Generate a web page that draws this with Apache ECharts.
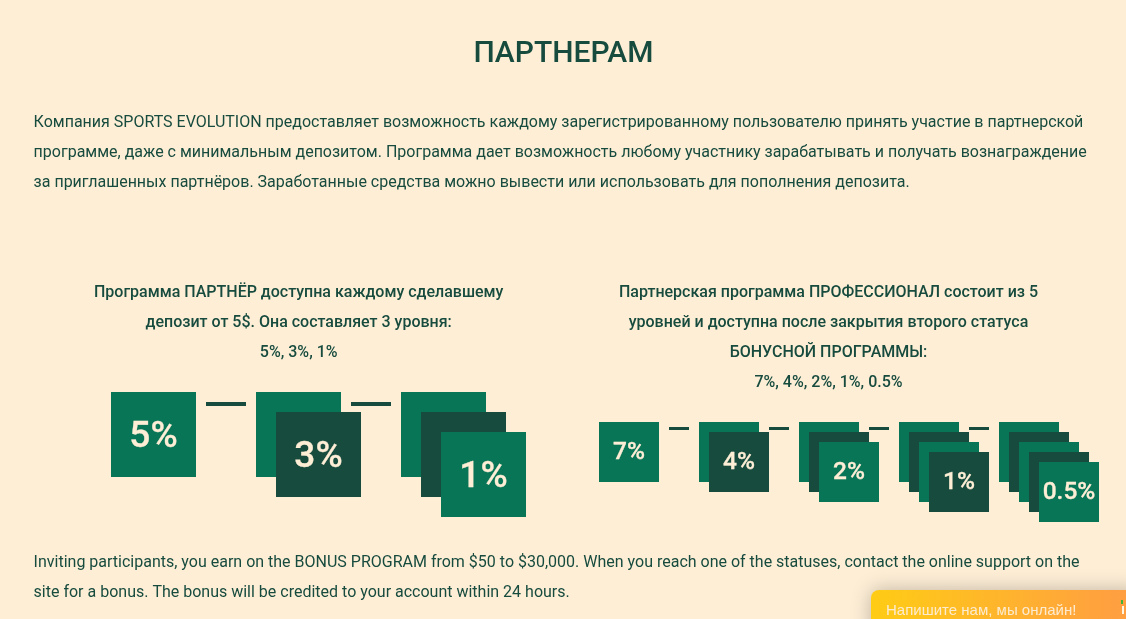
<!DOCTYPE html>
<html><head><meta charset="utf-8">
<style>html,body{margin:0;padding:0;background:#FEEED6;overflow:hidden}#c{width:1126px;height:619px}</style>
<script src="https://cdn.jsdelivr.net/npm/echarts@6/dist/echarts.min.js"></script>
</head><body><div id="c"></div>
<script>
const pageTitle = 'ПАРТНЕРАМ';
const introLines = [
 'Компания SPORTS EVOLUTION предоставляет возможность каждому зарегистрированному пользователю принять участие в партнерской',
 'программе, даже с минимальным депозитом. Программа дает возможность любому участнику зарабатывать и получать вознаграждение',
 'за приглашенных партнёров. Заработанные средства можно вывести или использовать для пополнения депозита.'
];
const partnerLines = ['Программа ПАРТНЁР доступна каждому сделавшему','депозит от 5$. Она составляет 3 уровня:','5%, 3%, 1%'];
const proLines = ['Партнерская программа ПРОФЕССИОНАЛ состоит из 5','уровней и доступна после закрытия второго статуса','БОНУСНОЙ ПРОГРАММЫ:','7%, 4%, 2%, 1%, 0.5%'];
const outroLines = [
 'Inviting participants, you earn on the BONUS PROGRAM from $50 to $30,000. When you reach one of the statuses, contact the online support on the',
 'site for a bonus. The bonus will be credited to your account within 24 hours.'
];
const chatLabel = 'Напишите нам, мы онлайн!';
const partnerLevels = ['5%','3%','1%'];
const proLevels = ['7%','4%','2%','1%','0.5%'];

const GREEN='#087557', DARK='#174B3E', CREAM='#FEEED6';

// every level is a stack of (level index + 1) squares; depth = position in stack
function stackRows(levels){
  const rows=[];
  levels.forEach((lab,i)=>{ for(let d=0;d<=i;d++) rows.push([i,d]); });
  return rows;
}
function linkRows(levels){ return levels.slice(1).map((_,i)=>[i,0]); }

function stackSeries(levels,gridIdx,size,shift,fontSize){
  return {type:'custom',coordinateSystem:'cartesian2d',xAxisIndex:gridIdx,yAxisIndex:gridIdx,silent:true,
    clip:false,data:stackRows(levels),encode:{x:0,y:1},
    renderItem(p,api){
      const d=api.value(1), c=api.coord([api.value(0),d]);
      const x=c[0]+d*shift-size/2, y=c[1]-size/2;
      const lab=levels[api.value(0)];
      const top=d===api.value(0);
      const kids=[{type:'rect',shape:{x,y,width:size,height:size},style:{fill:d%2?DARK:GREEN}}];
      if(top) kids.push({type:'text',style:{text:lab,x:x+size/2,y:y+size/2+(fontSize-20)*0.22,align:'center',verticalAlign:'middle',
        fill:CREAM,stroke:CREAM,lineWidth:0.3,font:'500 '+fontSize+'px Roboto'}});
      return {type:'group',children:kids};
    }};
}
function linkSeries(levels,gridIdx,size,gap,len,thick,drop){
  return {type:'custom',coordinateSystem:'cartesian2d',xAxisIndex:gridIdx,yAxisIndex:gridIdx,silent:true,
    clip:false,data:linkRows(levels),encode:{x:0,y:1},
    renderItem(p,api){
      const c=api.coord([api.value(0),0]);
      return {type:'rect',shape:{x:c[0]+size/2+gap,y:c[1]-size/2+drop,width:len,height:thick},style:{fill:DARK}};
    }};
}
function textEls(lines,x,y0,lh,align,font,fill){
  return lines.map((t,i)=>({type:'text',style:{text:t,x,y:y0+i*lh,align,verticalAlign:'middle',font,fill}}));
}
const BODY='400 16px Roboto', HEAD='500 16px Roboto';
const chart=echarts.init(document.getElementById('c'),null,{renderer:'canvas'});
const hiddenX=(max,g)=>({type:'value',gridIndex:g,min:0,max,show:false});
const hiddenY=(max,g)=>({type:'value',gridIndex:g,min:0,max,inverse:true,show:false});
chart.setOption({
  animation:false,backgroundColor:CREAM,
  grid:[
    {left:153.5,top:434.5,width:290,height:40},
    {left:629,top:452,width:400,height:40}
  ],
  xAxis:[hiddenX(2,0),hiddenX(4,1)],
  yAxis:[hiddenY(2,0),hiddenY(4,1)],
  series:[
    linkSeries(partnerLevels,0,85,10,40,4,10),
    stackSeries(partnerLevels,0,85,20,37),
    linkSeries(proLevels,1,60,10,20,3,5),
    stackSeries(proLevels,1,60,10,24.5)
  ],
  graphic:[
    {type:'text',style:{text:pageTitle,x:563.5,y:54,align:'center',verticalAlign:'middle',font:'500 30px Roboto',fill:DARK}},
    ...textEls(introLines,33.6,123,30,'left',BODY,DARK),
    ...textEls(partnerLines.slice(0,2),298.7,293,30,'center',HEAD,DARK),
    ...textEls(partnerLines.slice(2),298.7,353,30,'center',HEAD,DARK),
    ...textEls(proLines.slice(0,3),828.5,293,30,'center',HEAD,DARK),
    ...textEls(proLines.slice(3),828.5,383,30,'center',HEAD,DARK),
    ...textEls(outroLines,33.6,563,30,'left',BODY,DARK),
    {type:'rect',shape:{x:871,y:590,width:270,height:60,r:8},
      style:{fill:new echarts.graphic.LinearGradient(0,0,1,0,[{offset:0,color:'#FFCC15'},{offset:0.9,color:'#FFA040'},{offset:1,color:'#FF9E42'}]),
      shadowBlur:20,shadowColor:'rgba(0,0,0,0.25)'}},
    {type:'text',style:{text:chatLabel,x:886,y:611,align:'left',verticalAlign:'middle',font:'15px "Liberation Sans"',fill:'#FDEBD0'}},
    {type:'rect',shape:{x:1121,y:600,width:2,height:4},style:{fill:'#3FB53A'}},
    {type:'rect',shape:{x:1122,y:606,width:2,height:8},style:{fill:'#FFF4E0'}}
  ]
});
</script></body></html>
